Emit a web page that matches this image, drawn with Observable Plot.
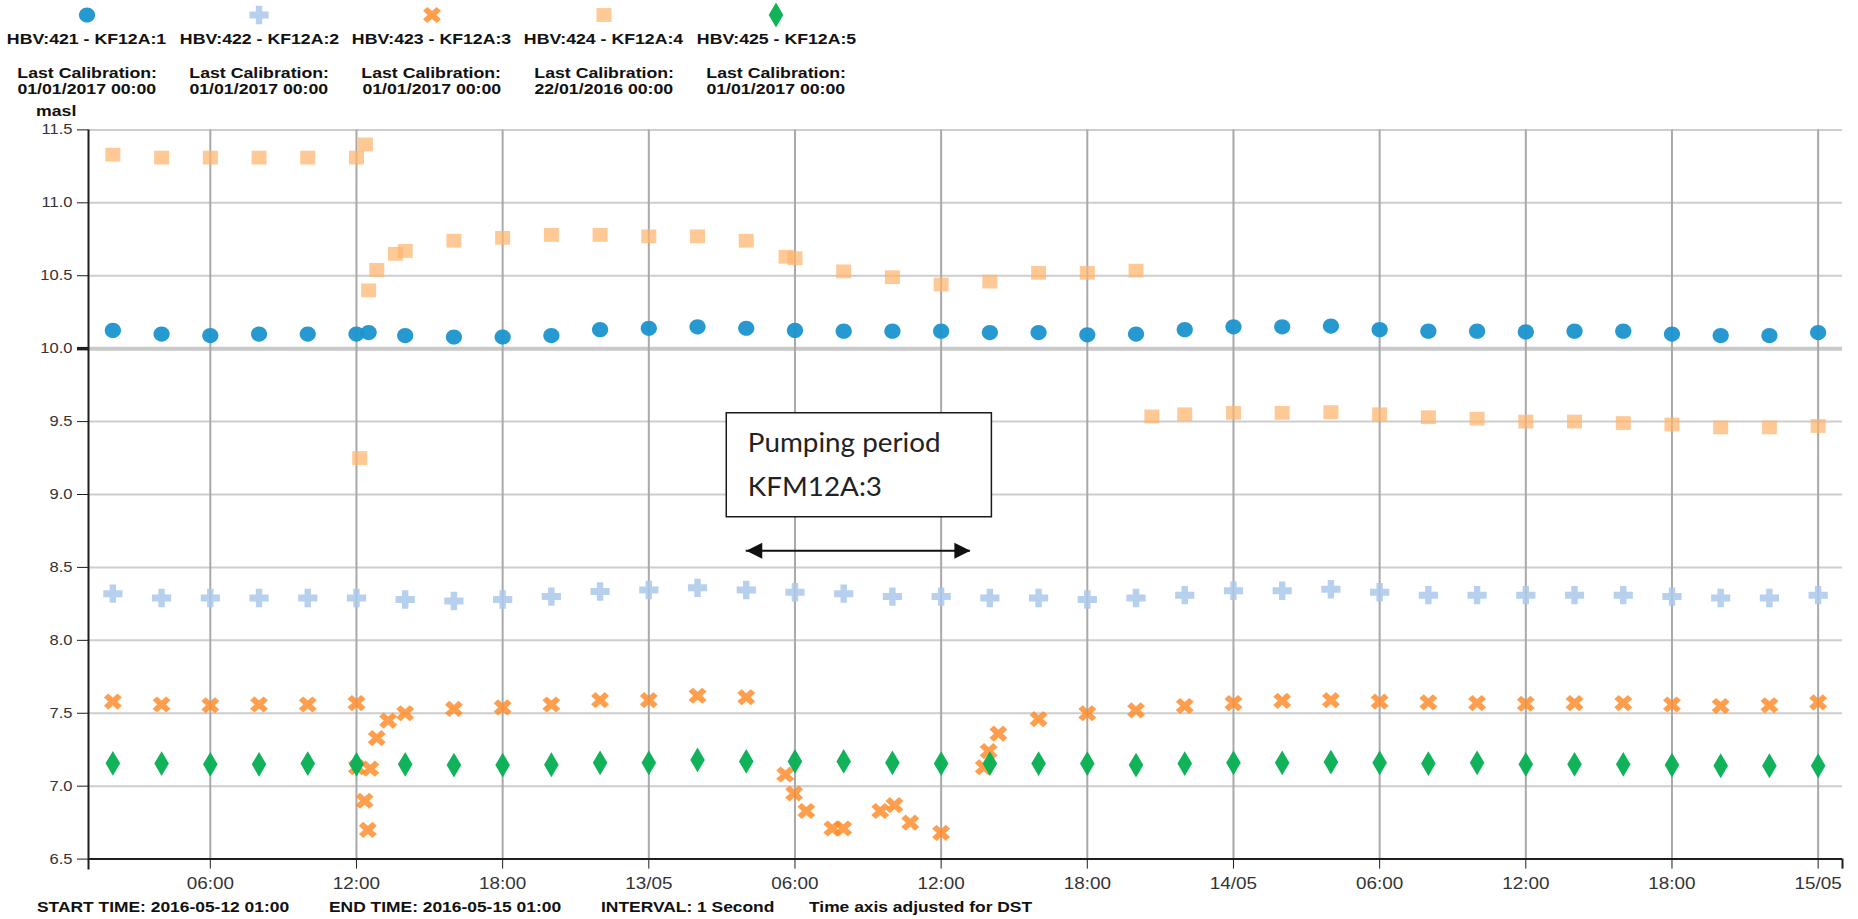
<!DOCTYPE html>
<html>
<head>
<meta charset="utf-8">
<script src="https://cdn.jsdelivr.net/npm/d3@7"></script>
<script src="https://cdn.jsdelivr.net/npm/@observablehq/plot@0.6"></script>
<style>
  html, body { margin: 0; padding: 0; background: #fff; }
  #root { position: relative; width: 1858px; height: 919px; overflow: hidden;
          font-family: "Liberation Sans", Arial, sans-serif; color: #111; }
  .col { position: absolute; top: 0; width: 260px; height: 100px; }
  .line { position: absolute; left: 0; width: 260px; text-align: center; font-weight: bold;
          font-size: 15px; line-height: 15px; white-space: nowrap; }
  .sx { display: inline-block; transform: scaleX(1.18); }
  .foot { position: absolute; top: 899px; font-weight: bold; font-size: 15px; line-height: 15px;
          white-space: nowrap; transform: scaleX(1.16); transform-origin: left center; }
  #masl { position: absolute; left: 36px; top: 103px; font-weight: bold; font-size: 15px; line-height: 15px;
          transform: scaleX(1.18); transform-origin: left center; }
  #chart { position: absolute; left: 0; top: 120px; }
</style>
</head>
<body>
<div id="root">
  <div id="legend"></div>
  <div id="masl">masl</div>
  <div id="chart"></div>
  <div id="footer"></div>
</div>
<script>
// ---------------- data ----------------
const seriesNames = ["HBV:421 - KF12A:1", "HBV:422 - KF12A:2", "HBV:423 - KF12A:3", "HBV:424 - KF12A:4", "HBV:425 - KF12A:5"];
const calibrationDates = ["01/01/2017 00:00", "01/01/2017 00:00", "01/01/2017 00:00", "22/01/2016 00:00", "01/01/2017 00:00"];

const regularTimes = [
  "2016-05-12T02:00","2016-05-12T04:00","2016-05-12T06:00","2016-05-12T08:00","2016-05-12T10:00","2016-05-12T12:00",
  "2016-05-12T14:00","2016-05-12T16:00","2016-05-12T18:00","2016-05-12T20:00","2016-05-12T22:00",
  "2016-05-13T00:00","2016-05-13T02:00","2016-05-13T04:00","2016-05-13T06:00","2016-05-13T08:00","2016-05-13T10:00",
  "2016-05-13T12:00","2016-05-13T14:00","2016-05-13T16:00","2016-05-13T18:00","2016-05-13T20:00","2016-05-13T22:00",
  "2016-05-14T00:00","2016-05-14T02:00","2016-05-14T04:00","2016-05-14T06:00","2016-05-14T08:00","2016-05-14T10:00",
  "2016-05-14T12:00","2016-05-14T14:00","2016-05-14T16:00","2016-05-14T18:00","2016-05-14T20:00","2016-05-14T22:00",
  "2016-05-15T00:00"
];

// HBV:421 (circles)
const hbv421Values = [
  10.125, 10.10, 10.09, 10.10, 10.10, 10.10, 10.09, 10.08, 10.08, 10.09, 10.13,
  10.14, 10.15, 10.14, 10.125, 10.12, 10.12, 10.12, 10.11, 10.11, 10.095, 10.10, 10.13,
  10.15, 10.15, 10.155, 10.13, 10.12, 10.12, 10.115, 10.12, 10.12, 10.10, 10.09, 10.09,
  10.11
];
const hbv421ExtraTimes = ["2016-05-12T12:30"];
const hbv421ExtraValues = [10.11];

// HBV:422 (plus)
const hbv422Values = [
  8.32, 8.29, 8.29, 8.29, 8.29, 8.29, 8.28, 8.27, 8.28, 8.30, 8.335,
  8.345, 8.36, 8.345, 8.33, 8.32, 8.30, 8.30, 8.29, 8.29, 8.28, 8.29, 8.31,
  8.34, 8.34, 8.35, 8.33, 8.31, 8.31, 8.31, 8.31, 8.31, 8.30, 8.29, 8.29,
  8.31
];

// HBV:423 (x) - irregular during pumping
const hbv423Times = [
  "2016-05-12T02:00","2016-05-12T04:00","2016-05-12T06:00","2016-05-12T08:00","2016-05-12T10:00","2016-05-12T12:00",
  "2016-05-12T12:01","2016-05-12T12:20","2016-05-12T12:28","2016-05-12T12:34","2016-05-12T12:50","2016-05-12T13:18",
  "2016-05-12T14:00","2016-05-12T16:00","2016-05-12T18:00","2016-05-12T20:00","2016-05-12T22:00",
  "2016-05-13T00:00","2016-05-13T02:00","2016-05-13T04:00","2016-05-13T05:36","2016-05-13T05:58","2016-05-13T06:28",
  "2016-05-13T07:32","2016-05-13T07:59","2016-05-13T09:30","2016-05-13T10:05","2016-05-13T10:44","2016-05-13T12:00",
  "2016-05-13T13:45","2016-05-13T13:57","2016-05-13T14:21","2016-05-13T16:00","2016-05-13T18:00","2016-05-13T20:00",
  "2016-05-13T22:00",
  "2016-05-14T00:00","2016-05-14T02:00","2016-05-14T04:00","2016-05-14T06:00","2016-05-14T08:00","2016-05-14T10:00",
  "2016-05-14T12:00","2016-05-14T14:00","2016-05-14T16:00","2016-05-14T18:00","2016-05-14T20:00","2016-05-14T22:00",
  "2016-05-15T00:00"
];
const hbv423Values = [
  7.58, 7.56, 7.555, 7.56, 7.56, 7.57,
  7.13, 6.90, 6.70, 7.12, 7.33, 7.45,
  7.50, 7.53, 7.54, 7.56, 7.59,
  7.59, 7.62, 7.61, 7.08, 6.95, 6.83,
  6.71, 6.71, 6.83, 6.87, 6.75, 6.68,
  7.13, 7.24, 7.36, 7.46, 7.50, 7.52,
  7.55,
  7.57, 7.585, 7.59, 7.58, 7.575, 7.57,
  7.565, 7.57, 7.57, 7.56, 7.55, 7.555,
  7.575
];

// HBV:424 (squares)
const hbv424Times = [
  "2016-05-12T02:00","2016-05-12T04:00","2016-05-12T06:00","2016-05-12T08:00","2016-05-12T10:00","2016-05-12T12:00",
  "2016-05-12T12:08","2016-05-12T12:22","2016-05-12T12:30","2016-05-12T12:50","2016-05-12T13:36",
  "2016-05-12T14:00","2016-05-12T16:00","2016-05-12T18:00","2016-05-12T20:00","2016-05-12T22:00",
  "2016-05-13T00:00","2016-05-13T02:00","2016-05-13T04:00","2016-05-13T05:38","2016-05-13T06:00","2016-05-13T08:00",
  "2016-05-13T10:00","2016-05-13T12:00","2016-05-13T14:00","2016-05-13T16:00","2016-05-13T18:00","2016-05-13T20:00",
  "2016-05-13T20:39","2016-05-13T22:00",
  "2016-05-14T00:00","2016-05-14T02:00","2016-05-14T04:00","2016-05-14T06:00","2016-05-14T08:00","2016-05-14T10:00",
  "2016-05-14T12:00","2016-05-14T14:00","2016-05-14T16:00","2016-05-14T18:00","2016-05-14T20:00","2016-05-14T22:00",
  "2016-05-15T00:00"
];
const hbv424Values = [
  11.33, 11.31, 11.31, 11.31, 11.31, 11.31,
  9.25, 11.40, 10.40, 10.54, 10.65,
  10.67, 10.74, 10.76, 10.78, 10.78,
  10.77, 10.77, 10.74, 10.63, 10.62, 10.53,
  10.49, 10.44, 10.46, 10.52, 10.52, 10.535,
  9.535, 9.55,
  9.56, 9.56, 9.565, 9.55, 9.53, 9.52,
  9.50, 9.50, 9.49, 9.48, 9.46, 9.46,
  9.47
];

// HBV:425 (diamonds)
const hbv425Values = [
  7.157, 7.155, 7.15, 7.15, 7.155, 7.15, 7.15, 7.145, 7.145, 7.147, 7.16,
  7.16, 7.18, 7.17, 7.17, 7.17, 7.16, 7.155, 7.155, 7.155, 7.155, 7.145, 7.155,
  7.16, 7.16, 7.165, 7.16, 7.155, 7.16, 7.15, 7.15, 7.15, 7.145, 7.14, 7.14,
  7.14
];

// axes
const timeDomain = ["2016-05-12T01:00", "2016-05-15T01:00"];
const xTicks = ["2016-05-12T06:00","2016-05-12T12:00","2016-05-12T18:00","2016-05-13T00:00","2016-05-13T06:00",
                "2016-05-13T12:00","2016-05-13T18:00","2016-05-14T00:00","2016-05-14T06:00","2016-05-14T12:00",
                "2016-05-14T18:00","2016-05-15T00:00"];
const xTickLabels = ["06:00","12:00","18:00","13/05","06:00","12:00","18:00","14/05","06:00","12:00","18:00","15/05"];
const yTicks = [6.5, 7.0, 7.5, 8.0, 8.5, 9.0, 9.5, 10.0, 10.5, 11.0, 11.5];

// annotation
const annotationLines = ["Pumping period", "KFM12A:3"];
const annotationBaselines = [9.289, 8.992];
const annotationTextStart = "2016-05-13T04:04";
const annotationBox = {start: "2016-05-13T03:12", end: "2016-05-13T14:05", top: 9.557, bottom: 8.844};
const pumpingArrow = {start: "2016-05-13T04:00", end: "2016-05-13T13:12", level: 8.615};

const footerTexts = ["START TIME: 2016-05-12 01:00", "END TIME: 2016-05-15 01:00", "INTERVAL: 1 Second", "Time axis adjusted for DST"];

// ---------------- styling ----------------
const seriesColors = ["#1a93cd", "#a9c8ea", "#ff8a26", "#ffb46e", "#08b155"];
const seriesOpacity = [0.95, 0.85, 0.82, 0.72, 0.97];

const parse = d3.utcParse("%Y-%m-%dT%H:%M");

function polygon(pts) {
  return {draw(c) { c.moveTo(pts[0][0], pts[0][1]); for (let i = 1; i < pts.length; i++) c.lineTo(pts[i][0], pts[i][1]); c.closePath(); }};
}
function ellipse(rx, ry) {
  const k = 0.5523;
  return {draw(c) {
    c.moveTo(rx, 0);
    c.bezierCurveTo(rx, ry * k, rx * k, ry, 0, ry);
    c.bezierCurveTo(-rx * k, ry, -rx, ry * k, -rx, 0);
    c.bezierCurveTo(-rx, -ry * k, -rx * k, -ry, 0, -ry);
    c.bezierCurveTo(rx * k, -ry, rx, -ry * k, rx, 0);
    c.closePath();
  }};
}
function plusPts(a, b, tv, th) {
  return [[-tv,-b],[tv,-b],[tv,-th],[a,-th],[a,th],[tv,th],[tv,b],[-tv,b],[-tv,th],[-a,th],[-a,-th],[-tv,-th]];
}
const s2 = Math.SQRT1_2;
const symCircle = ellipse(8.1, 7.6);
const symPlus = polygon(plusPts(9.6, 9.2, 3.2, 3.5));
const symX = polygon(plusPts(9.6, 9.6, 3.1, 3.1).map(([x, y]) => [(x - y) * s2, (x + y) * s2 * 0.9]));
const symSquare = polygon([[-7.5,-6.9],[7.5,-6.9],[7.5,6.9],[-7.5,6.9]]);
const symDiamond = polygon([[0,-12.4],[7.3,0],[0,12.4],[-7.3,0]]);
const symArrowLeft = polygon([[0,0],[16,-8],[16,8]]);
const symArrowRight = polygon([[0,0],[-16,-8],[-16,8]]);
const seriesSymbols = [symCircle, symPlus, symX, symSquare, symDiamond];

const rowsOf = (times, values) => times.map((t, i) => ({t: parse(t), v: values[i]}));
const seriesRows = [
  rowsOf(regularTimes, hbv421Values).concat(rowsOf(hbv421ExtraTimes, hbv421ExtraValues)),
  rowsOf(regularTimes, hbv422Values),
  rowsOf(hbv423Times, hbv423Values),
  rowsOf(hbv424Times, hbv424Values),
  rowsOf(regularTimes, hbv425Values)
];

// ---------------- legend ----------------
const legend = document.getElementById("legend");
seriesNames.forEach((name, i) => {
  const cx = 87 + 172.3 * i;
  const col = document.createElement("div");
  col.className = "col";
  col.style.left = (cx - 130) + "px";
  const p = d3.path(); seriesSymbols[i].draw(p);
  col.innerHTML =
    `<svg width="40" height="32" style="position:absolute;left:110px;top:0" viewBox="-20 -15 40 32">` +
    `<path d="${p}" fill="${seriesColors[i]}" fill-opacity="${seriesOpacity[i]}"></path></svg>` +
    `<div class="line" style="top:30.6px"><span class="sx">${name}</span></div>` +
    `<div class="line" style="top:64.6px"><span class="sx">Last Calibration:</span></div>` +
    `<div class="line" style="top:80.6px"><span class="sx">${calibrationDates[i]}</span></div>`;
  legend.appendChild(col);
});

// ---------------- footer ----------------
const footerLefts = [37, 329, 601, 809];
const footer = document.getElementById("footer");
footerTexts.forEach((t, i) => {
  const s = document.createElement("div");
  s.className = "foot";
  s.style.left = footerLefts[i] + "px";
  s.textContent = t;
  footer.appendChild(s);
});

// ---------------- chart ----------------
const xTickDates = xTicks.map(parse);
const start = parse(timeDomain[0]), end = parse(timeDomain[1]);

const dotMarks = seriesRows.map((rows, i) =>
  Plot.dot(rows, {x: "t", y: "v", symbol: seriesSymbols[i], r: 8,
                  fill: seriesColors[i], fillOpacity: seriesOpacity[i], stroke: "none"}));

const chart = Plot.plot({
  width: 1858,
  height: 775,
  marginTop: 9.4,
  marginBottom: 36.4,
  marginLeft: 88,
  marginRight: 16,
  style: {fontFamily: "'Liberation Sans', Arial, sans-serif", fontSize: "14px", color: "#1e1e1e", background: "transparent", overflow: "visible"},
  x: {type: "utc", domain: [start, end], ticks: xTickDates,
      tickFormat: d => { const k = xTickDates.findIndex(t => +t === +d); return k >= 0 ? xTickLabels[k] : ""; },
      tickSize: 10, tickPadding: 9, label: null},
  y: {domain: [6.5, 11.5], ticks: yTicks, tickFormat: d => d.toFixed(1), tickSize: 11, tickPadding: 5, label: null},
  marks: [
    Plot.ruleY(yTicks, {stroke: "#cdcdcd", strokeWidth: 2}),
    Plot.ruleY([10], {stroke: "#c9c9c9", strokeWidth: 4}),
    Plot.ruleX(xTickDates, {stroke: "#a9a9a9", strokeWidth: 2}),
    Plot.ruleX([start], {stroke: "#1e1e1e", strokeWidth: 2, insetBottom: -11}),
    Plot.ruleY([6.5], {stroke: "#1e1e1e", strokeWidth: 2}),
    Plot.ruleX([end], {y1: () => 6.5, y2: () => 6.5, insetBottom: -10, stroke: "#1e1e1e", strokeWidth: 2}),
    Plot.ruleY([10], {x1: () => start, x2: () => start, insetLeft: -11, stroke: "#1e1e1e", strokeWidth: 3.5}),
    // annotation
    Plot.rect([annotationBox], {x1: d => parse(d.start), x2: d => parse(d.end), y1: d => d.bottom, y2: d => d.top,
                                fill: "white", stroke: "#1a1a1a", strokeWidth: 1.5}),
    Plot.text(annotationLines, {x: () => parse(annotationTextStart), y: (d, i) => annotationBaselines[i], text: d => d,
                                textAnchor: "start", lineAnchor: "bottom", fontFamily: "Lato, 'Open Sans', sans-serif",
                                fontSize: 26, fill: "#222"}),
    Plot.ruleY([pumpingArrow], {y: "level", x1: d => parse(d.start), x2: d => parse(d.end), stroke: "#111", strokeWidth: 2}),
    Plot.dot([pumpingArrow], {x: d => parse(d.start), y: "level", symbol: symArrowLeft, r: 8, fill: "#111", stroke: "none"}),
    Plot.dot([pumpingArrow], {x: d => parse(d.end), y: "level", symbol: symArrowRight, r: 8, fill: "#111", stroke: "none"}),
    ...dotMarks
  ]
});
document.getElementById("chart").appendChild(chart);

// horizontal stretch of text to match the reference's rendering
chart.querySelectorAll('[aria-label^="x-axis"] text').forEach(t => t.setAttribute("font-size", "16px"));
chart.querySelectorAll("text").forEach(t => {
  const isAnn = annotationLines.includes(t.textContent);
  const k = isAnn ? 1.07 : 1.18;
  if (!isAnn) t.setAttribute("fill", "#333");
  const tr = t.getAttribute("transform") || "";
  t.setAttribute("transform", (tr + ` scale(${k},1)`).trim());
  const x = t.getAttribute("x");
  if (x != null && !/em$/.test(x)) t.setAttribute("x", parseFloat(x) / k);
});
</script>
</body>
</html>
